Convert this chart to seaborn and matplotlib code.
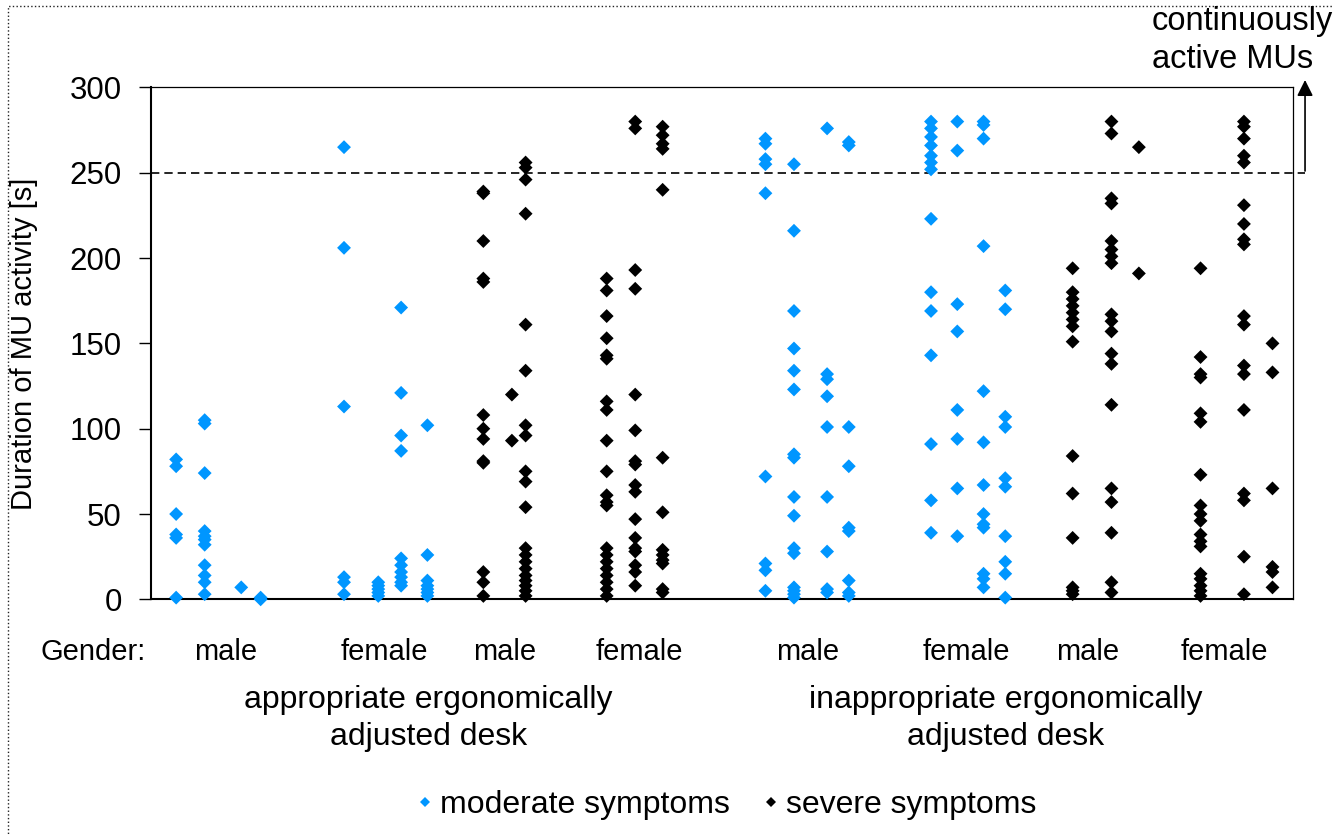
import pandas as pd
import matplotlib.pyplot as plt
import seaborn as sns
from matplotlib.transforms import blended_transform_factory
from matplotlib.patches import Rectangle

# column positions (subject slots along the x axis) and durations [s] per column
app_male_mod_x = [2.2, 4.7, 7.9, 9.6]
app_male_mod = [
    [82, 78, 50, 38, 36, 1],
    [105, 103, 74, 40, 37, 35, 32, 20, 14, 10, 3],
    [7],
    [1, 0],
]
app_female_mod_x = [16.9, 19.9, 21.9, 24.2]
app_female_mod = [
    [265, 206, 113, 13, 10, 3],
    [10, 8, 6, 4, 2],
    [171, 121, 96, 87, 24, 20, 16, 13, 10, 8],
    [102, 26, 11, 8, 6, 4, 2],
]
app_male_sev_x = [29.1, 31.6, 32.8]
app_male_sev = [
    [239, 238, 210, 188, 186, 108, 100, 94, 81, 80, 16, 10, 2],
    [120, 93],
    [256, 253, 246, 226, 161, 134, 102, 96, 75, 69, 54, 30, 26, 22, 18, 14, 11, 8, 5, 2],
]
app_female_sev_x = [39.9, 42.4, 44.8]
app_female_sev = [
    [188, 181, 166, 153, 143, 141, 116, 111, 93, 75, 61, 57, 55, 30, 26, 22, 18, 14, 10, 6, 2],
    [280, 276, 193, 182, 120, 99, 81, 79, 67, 63, 47, 36, 30, 28, 20, 16, 8],
    [277, 272, 267, 264, 240, 83, 51, 29, 26, 23, 21, 6, 4],
]
inapp_male_mod_x = [53.8, 56.3, 59.2, 61.1]
inapp_male_mod = [
    [270, 267, 258, 255, 238, 72, 21, 17, 5],
    [255, 216, 169, 147, 134, 123, 85, 83, 60, 49, 30, 27, 7, 5, 3, 1],
    [276, 132, 129, 119, 101, 60, 28, 6, 4],
    [268, 266, 101, 78, 42, 40, 11, 4, 2],
]
inapp_female_mod_x = [68.3, 70.6, 72.9, 74.8]
inapp_female_mod = [
    [280, 276, 271, 266, 260, 256, 252, 223, 180, 169, 143, 91, 58, 39],
    [280, 263, 173, 157, 111, 94, 65, 37],
    [280, 278, 270, 207, 122, 92, 67, 50, 44, 42, 15, 12, 7],
    [181, 170, 107, 101, 71, 66, 37, 22, 15, 1],
]
inapp_male_sev_x = [80.7, 84.1, 86.5]
inapp_male_sev = [
    [194, 180, 176, 172, 168, 164, 160, 151, 84, 62, 36, 7, 5, 3],
    [280, 273, 235, 232, 210, 205, 201, 197, 167, 163, 157, 144, 138, 114, 65, 57, 39, 10, 4],
    [265, 191],
]
inapp_female_sev_x = [91.9, 95.7, 98.2]
inapp_female_sev = [
    [194, 142, 132, 130, 109, 104, 73, 55, 50, 46, 38, 34, 31, 15, 12, 8, 5, 2],
    [280, 277, 270, 260, 256, 231, 220, 211, 208, 166, 161, 137, 132, 111, 62, 58, 25, 3],
    [150, 133, 65, 19, 16, 7],
]

genders = ['male', 'female', 'male', 'female', 'male', 'female', 'male', 'female']
desks = ['appropriate ergonomically\nadjusted desk', 'inappropriate ergonomically\nadjusted desk']
symptoms = ['moderate symptoms', 'severe symptoms']
threshold = 250

groups = [
    (app_male_mod_x, app_male_mod, symptoms[0]),
    (app_female_mod_x, app_female_mod, symptoms[0]),
    (app_male_sev_x, app_male_sev, symptoms[1]),
    (app_female_sev_x, app_female_sev, symptoms[1]),
    (inapp_male_mod_x, inapp_male_mod, symptoms[0]),
    (inapp_female_mod_x, inapp_female_mod, symptoms[0]),
    (inapp_male_sev_x, inapp_male_sev, symptoms[1]),
    (inapp_female_sev_x, inapp_female_sev, symptoms[1]),
]

rows = []
for xs, cols, sym in groups:
    for x, vals in zip(xs, cols):
        for v in vals:
            rows.append({'x': x, 'duration': v, 'symptoms': sym})
df = pd.DataFrame(rows)

sns.set_theme(style='white')
plt.rcParams['font.family'] = ['Liberation Sans', 'DejaVu Sans']
plt.rcParams['text.color'] = 'black'
plt.rcParams['axes.labelcolor'] = 'black'

fig = plt.figure(figsize=(13.34, 8.36), dpi=100)
ax = fig.add_axes([0.1132, 0.2831, 0.8561, 0.6123])

sns.scatterplot(data=df, x='x', y='duration', hue='symptoms', hue_order=symptoms,
                palette={'moderate symptoms': '#0096ff', 'severe symptoms': 'black'},
                marker='D', s=50, linewidth=0, ax=ax, clip_on=False, zorder=3)

ax.set_xlim(0, 100)
ax.set_ylim(0, 300)
ax.set_yticks(range(0, 301, 50))
ax.set_xticks([])
ax.set_xlabel('')
ax.set_ylabel('Duration of MU activity [s]', fontsize=21, color='black')
ax.yaxis.set_label_coords(-0.099, 0.5)
ax.tick_params(axis='y', direction='out', length=9, width=1, labelsize=22.5, pad=12,
               left=True, color='black', labelcolor='black')
for side in ['left', 'bottom']:
    ax.spines[side].set_linewidth(1.5)
for side in ['top', 'right']:
    ax.spines[side].set_linewidth(0.9)
for sp in ax.spines.values():
    sp.set_color('black')

# threshold for continuously active MUs with arrow going out of the plot
tr = blended_transform_factory(ax.transAxes, ax.transData)
ax.plot([0, 1.0105], [threshold, threshold], transform=tr, color='black', lw=1.2,
        ls=(0, (5, 3)), clip_on=False, zorder=2)
ax.annotate('', xy=(1.0105, 306), xytext=(1.0105, threshold - 0.6), xycoords=tr, textcoords=tr,
            arrowprops=dict(arrowstyle='-|>', color='black', lw=1.2, mutation_scale=24),
            annotation_clip=False)
fig.text(1152 / 1334, 1 - 6 / 836, 'continuously\nactive MUs', fontsize=23.5,
         ha='left', va='top', linespacing=1.3, color='black')

# gender and desk labels under the axis
xt = ax.get_xaxis_transform()
gender_pos = [6.5, 20.4, 31.0, 42.8, 57.5, 71.4, 82.0, 94.0]
ax.text(-0.051, -0.103, 'Gender:', transform=ax.transAxes, ha='center', va='center',
        fontsize=21, color='black', family=['Liberation Sans Narrow', 'Liberation Sans'])
for gx, g in zip(gender_pos, genders):
    ax.text(gx, -0.103, g, transform=xt, ha='center', va='center', fontsize=21,
            color='black', family=['Liberation Sans Narrow', 'Liberation Sans'])
for dx, d in zip([24.3, 74.8], desks):
    ax.text(dx, -0.233, d, transform=xt, ha='center', va='center', fontsize=23,
            linespacing=1.3, color='black')

handles, labels = ax.get_legend_handles_labels()
leg = ax.legend(handles, labels, loc='center', bbox_to_anchor=(0.543, 0.037),
                bbox_transform=fig.transFigure, ncol=2, frameon=False, fontsize=23,
                handletextpad=0.05, columnspacing=0.9, markerscale=0.7, handlelength=0.8)
for t in leg.get_texts():
    t.set_color('black')

# dotted frame around the figure
fig.patches.append(Rectangle((8 / 1334, -0.05), 1.2, 1.05 - 6 / 836, transform=fig.transFigure,
                             fill=False, ls=':', lw=1, ec='#222222'))

fig.savefig('out.png', dpi=100)
